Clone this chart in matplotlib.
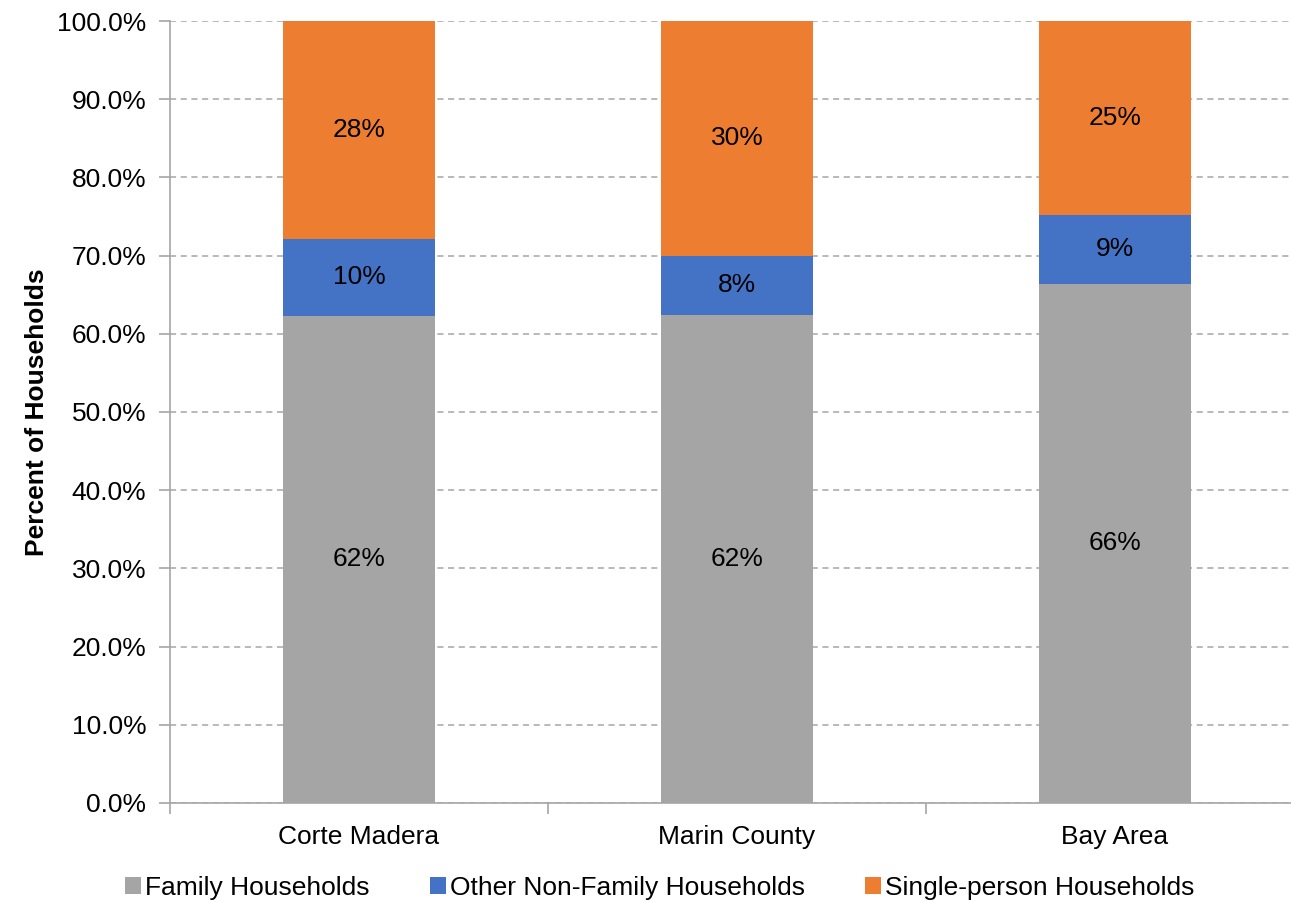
import matplotlib
matplotlib.use("Agg")
import matplotlib.pyplot as plt
import numpy as np
from matplotlib.ticker import FixedLocator, PercentFormatter

plt.rcParams["font.family"] = ["Liberation Sans", "DejaVu Sans"]

places = ["Corte Madera", "Marin County", "Bay Area"]
family = [62.3, 62.4, 66.4]
other_nonfamily = [9.8, 7.6, 8.8]
single_person = [27.9, 30.0, 24.8]
series_names = ["Family Households", "Other Non-Family Households", "Single-person Households"]
colors = ["#A5A5A5", "#4472C4", "#ED7D31"]

fig = plt.figure(figsize=(12.91, 9.02), dpi=100)
ax = fig.add_axes([0.1317, 0.1098, 0.8784, 0.8669])

x = np.arange(len(places))
bottom = np.zeros(len(places))
for vals, name, col in zip([family, other_nonfamily, single_person], series_names, colors):
    vals = np.array(vals)
    ax.bar(x, vals, width=0.4, bottom=bottom, color=col, label=name, zorder=3)
    for xi, b, v in zip(x, bottom, vals):
        ax.text(xi, b + v / 2, f"{v:.0f}%", ha="center", va="center", fontsize=19, zorder=4)
    bottom += vals

ax.set_xlim(-0.5, 2.5)
ax.set_ylim(0, 100)
ax.set_yticks(np.arange(0, 101, 10))
ax.yaxis.set_major_formatter(PercentFormatter(decimals=1))
ax.set_xticks(x)
ax.set_xticklabels(places)
ax.xaxis.set_minor_locator(FixedLocator([-0.5, 0.5, 1.5, 2.5]))
ax.tick_params(axis="x", which="major", length=0, pad=16, labelsize=19)
ax.tick_params(axis="x", which="minor", length=8, color="#A6A6A6", width=1.2)
ax.tick_params(axis="y", length=8, color="#A6A6A6", width=1.2, labelsize=19, pad=9)
ax.grid(axis="y", linestyle=(0, (4, 3)), color="#A6A6A6", linewidth=1.1, zorder=0)

for side in ["top", "right"]:
    ax.spines[side].set_visible(False)
for side in ["left", "bottom"]:
    ax.spines[side].set_color("#A6A6A6")
    ax.spines[side].set_linewidth(1.2)

ax.set_ylabel("Percent of Households", fontsize=19, fontweight="bold", labelpad=6)

fig.legend(loc="center", bbox_to_anchor=(0.511, 0.016), ncol=3, frameon=False,
           fontsize=19, handlelength=0.6, handleheight=0.6, handletextpad=0.15,
           columnspacing=2.3)

fig.savefig("out.png", dpi=100)
